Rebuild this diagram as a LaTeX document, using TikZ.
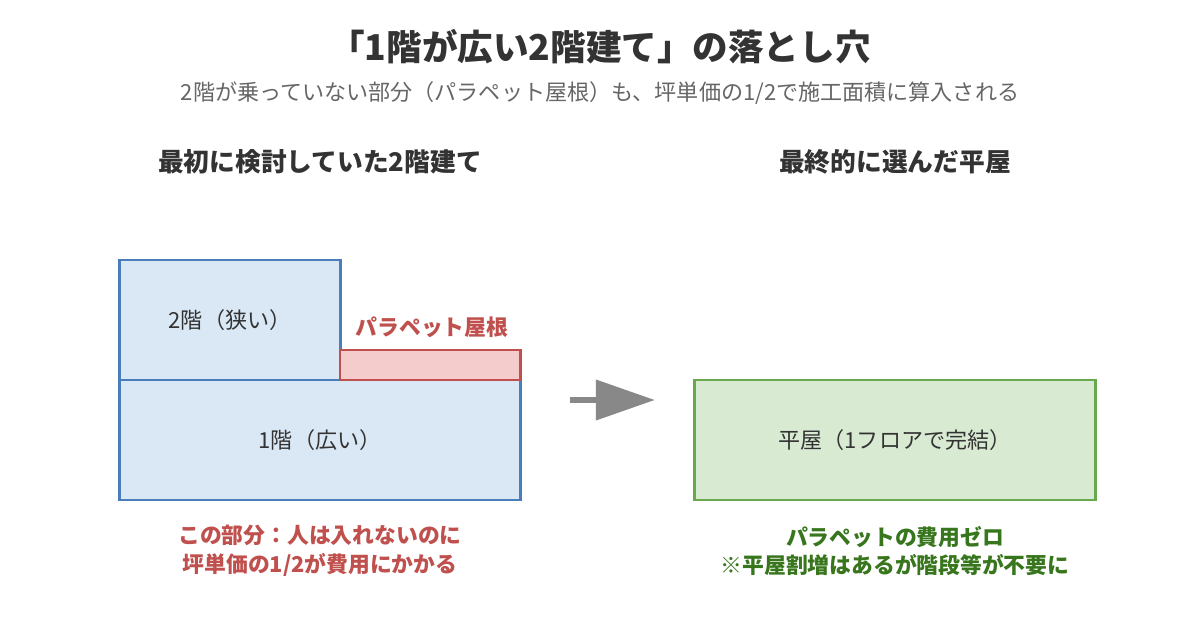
\documentclass[tikz,border=0pt]{standalone}
\usepackage{fontspec}
\setmainfont{Noto Sans CJK JP}
\usetikzlibrary{positioning,arrows.meta}
\definecolor{inkdark}{HTML}{333333}
\definecolor{inkgray}{HTML}{666666}
\definecolor{bluestroke}{HTML}{4A7EBB}
\definecolor{bluefill}{HTML}{DAE8F5}
\definecolor{redstroke}{HTML}{C0504D}
\definecolor{redfill}{HTML}{F4CCCC}
\definecolor{greenstroke}{HTML}{6AA84F}
\definecolor{greenfill}{HTML}{D9EAD3}
\definecolor{greentext}{HTML}{38761D}
\definecolor{arrowgray}{HTML}{888888}
\tikzset{
	maintitle/.style={text=inkdark,font=\fontsize{25.3}{30}\selectfont\bfseries},
	subtitle/.style={text=inkgray,font=\fontsize{15.7}{19}\selectfont},
	heading/.style={text=inkdark,font=\fontsize{18.3}{22}\selectfont\bfseries},
	floor/.style={draw=bluestroke,fill=bluefill,line width=2.1pt,inner sep=0pt,
		text=inkdark,font=\fontsize{15.7}{19}\selectfont},
	roofbox/.style={draw=redstroke,fill=redfill,line width=2.1pt,inner sep=0pt},
	hiraya/.style={draw=greenstroke,fill=greenfill,line width=2.1pt,inner sep=0pt,
		text=inkdark,font=\fontsize{15.7}{19}\selectfont},
	rednote/.style={text=redstroke,align=center,font=\fontsize{15.5}{20.6}\selectfont\bfseries},
	greennote/.style={text=greentext,align=center,font=\fontsize{15.5}{20.6}\selectfont\bfseries}
}
\begin{document}
\begin{tikzpicture}[x=0.025cm,y=-0.025cm]
	\useasboundingbox[fill=white] (0,0) rectangle (1200,630);
	\node[maintitle] (ttl) at (600,47) {「1階が広い2階建て」の落とし穴};
	\node[subtitle] (sub) at (600,93) {2階が乗っていない部分（パラペット屋根）も、坪単価の1/2で施工面積に算入される};
	\node[heading] (headL) at (320,162) {最初に検討していた2階建て};
	\node[heading] (headR) at (895,162) {最終的に選んだ平屋};
	\node[floor,minimum width=5.5cm,minimum height=3cm] (f2) at (230,320) {2階（狭い）};
	\node[floor,minimum width=10cm,minimum height=3cm] (f1) at (320,440) {1階（広い）};
	\node[roofbox,minimum width=4.5cm,minimum height=0.75cm] (roof) at (430,365) {};
	\node[rednote] (roofLbl) at (432,327) {パラペット屋根};
	\node[hiraya,minimum width=10cm,minimum height=3cm] (hr) at (895,440) {平屋（1フロアで完結）};
	\node[rednote] (noteL) at (320,551) {この部分：人は入れないのに\\坪単価の1/2が費用にかかる};
	\node[greennote] (noteR) at (895,551) {パラペットの費用ゼロ\\※平屋割増はあるが階段等が不要に};
	\coordinate (arrS) at (570,400);
	\coordinate (arrE) at (655,400);
	\draw[arrowgray,line width=0.17cm,-{Triangle[length=1.475cm,width=0.975cm]}] (arrS) -- (arrE);
\end{tikzpicture}
\end{document}
